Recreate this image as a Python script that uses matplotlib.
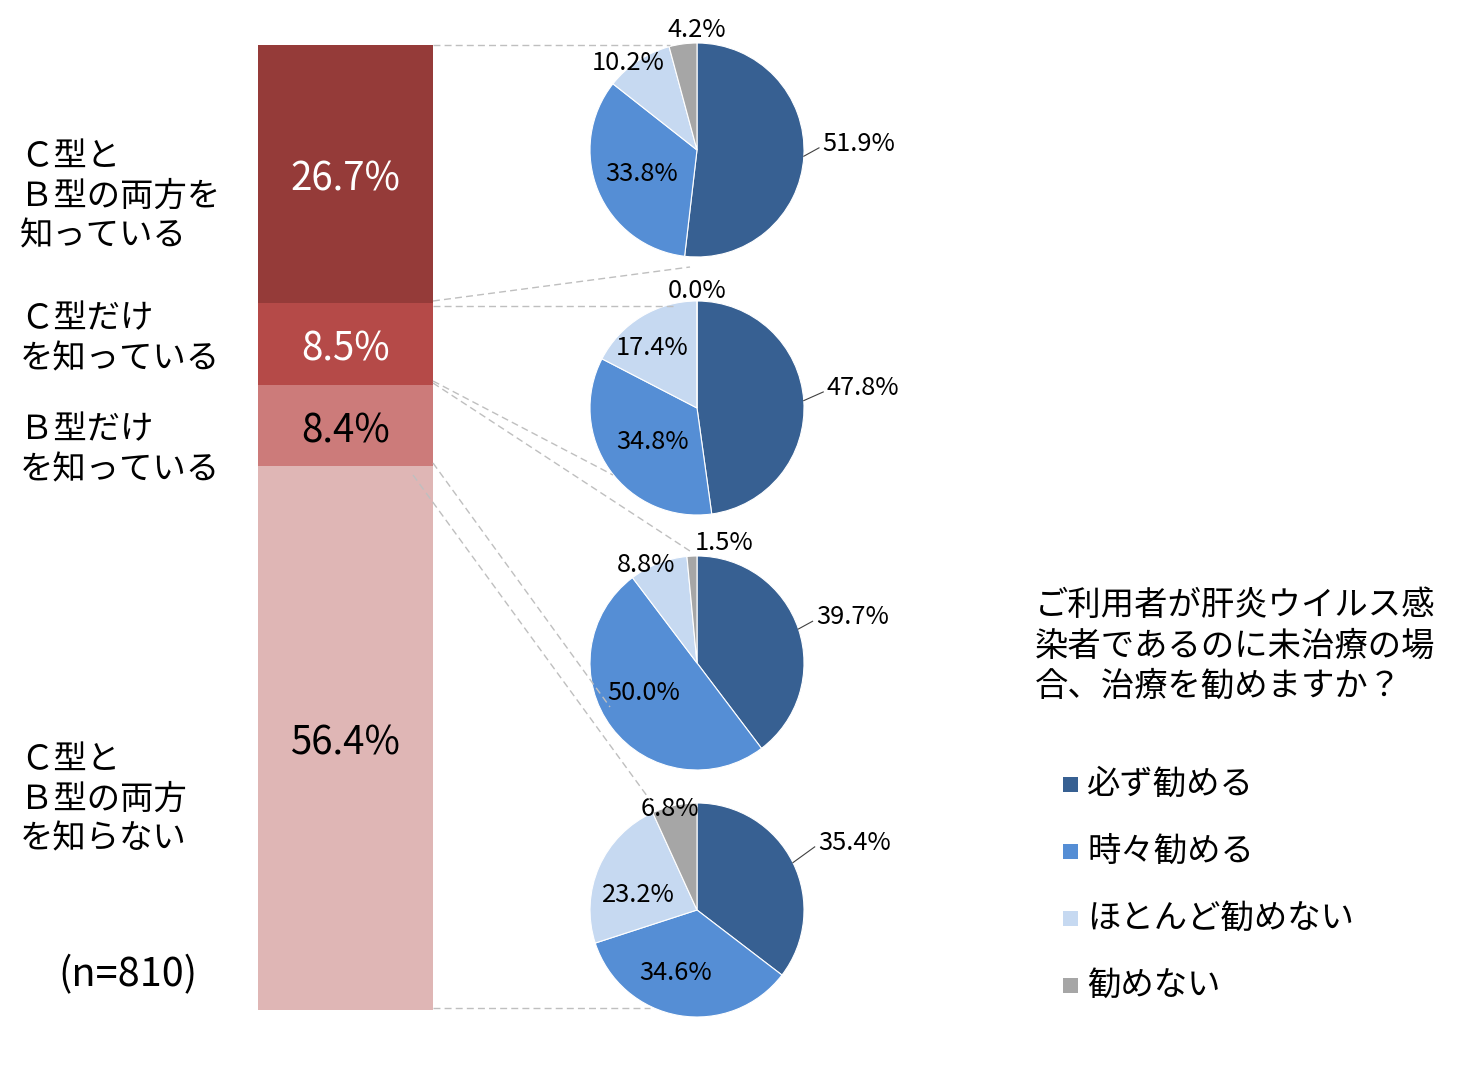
import matplotlib
matplotlib.use("Agg")
import matplotlib.pyplot as plt
from matplotlib.patches import Rectangle
import numpy as np

plt.rcParams['font.family'] = ['Noto Sans CJK JP', 'DejaVu Sans']

# ---------------- data ----------------
groups = ["Ｃ型と\nＢ型の両方を\n知っている",
          "Ｃ型だけ\nを知っている",
          "Ｂ型だけ\nを知っている",
          "Ｃ型と\nＢ型の両方\nを知らない"]
group_share = [26.7, 8.5, 8.4, 56.4]
answers = ["必ず勧める", "時々勧める", "ほとんど勧めない", "勧めない"]
pie_both = [51.9, 33.8, 10.2, 4.2]
pie_c_only = [47.8, 34.8, 17.4, 0.0]
pie_b_only = [39.7, 50.0, 8.8, 1.5]
pie_neither = [35.4, 34.6, 23.2, 6.8]
legend_title = "ご利用者が肝炎ウイルス感\n染者であるのに未治療の場\n合、治療を勧めますか？"
sample_note = "(n=810)"

# ---------------- style / layout ----------------
W, H = 1468, 1082
bar_colors = ["#953B39", "#B54A48", "#CC7B7A", "#DFB6B5"]
bar_text_colors = ["white", "white", "black", "black"]
pie_colors = ["#376092", "#558ED5", "#C6D9F1", "#A6A6A6"]
pie_centers = [(697, 150), (697, 408), (697, 663), (697, 910)]
R = 107
# label anchor offsets in units of pie radius (x right, y up)
label_offsets = [
    [(1.17, 0.06), (-0.52, -0.22), (-0.645, 0.81), (0.0, 1.12)],
    [(1.21, 0.19), (-0.42, -0.32), (-0.42, 0.56), (0.0, 1.09)],
    [(1.11, 0.43), (-0.50, -0.28), (-0.48, 0.92), (0.25, 1.12)],
    [(1.13, 0.63), (-0.20, -0.59), (-0.55, 0.14), (-0.25, 0.94)],
]
group_label_y = [196, 339, 450, 799]
connectors = [((433, 45), (670, 45)), ((433, 301), (690, 267)),
              ((433, 306), (673, 306)), ((433, 381), (613, 475)),
              ((433, 383), (693, 553)), ((433, 463), (610, 707)),
              ((413, 475), (650, 800)), ((433, 1008), (650, 1008))]
CJK_SIZE = 24
PIE_LABEL_SIZE = 18.3

fig = plt.figure(figsize=(W / 100, H / 100), dpi=100)
fig.patch.set_facecolor("white")

# ---------------- stacked bar ----------------
axb = fig.add_axes([258 / W, (H - 1010) / H, 175 / W, 965 / H])
bottoms = np.concatenate([[0], np.cumsum(group_share)[:-1]])
axb.bar([0] * len(group_share), group_share, bottom=bottoms, width=1.0,
        color=bar_colors, linewidth=0)
for b, h, tc in zip(bottoms, group_share, bar_text_colors):
    axb.annotate(f"{h:.1f}%", (0, b + h / 2), xytext=(0, -6),
                 textcoords="offset pixels", ha="center", va="center",
                 fontsize=27.7, color=tc)
axb.set_xlim(-0.5, 0.5)
axb.set_ylim(100, 0)
axb.axis("off")

# ---------------- pies ----------------
L = 150
for (cx, cy), vals, offs in zip(pie_centers,
                                [pie_both, pie_c_only, pie_b_only, pie_neither],
                                label_offsets):
    axp = fig.add_axes([(cx - L) / W, (H - cy - L) / H, 2 * L / W, 2 * L / H])
    axp.pie(vals, colors=pie_colors, startangle=90, counterclock=False,
            radius=1.0, wedgeprops=dict(edgecolor="white", linewidth=0.8))
    lim = L / R
    axp.set_xlim(-lim, lim)
    axp.set_ylim(-lim, lim)
    axp.set_aspect("equal")
    axp.axis("off")
    total = sum(vals)
    for i, (v, (dx, dy)) in enumerate(zip(vals, offs)):
        txt = f"{v:.1f}%"
        if i == 0:
            th = np.deg2rad(90 - v / total * 180)
            ex, ey = np.cos(th), np.sin(th)
            axp.plot([ex, dx - 0.03], [ey, dy - 0.04], color="#404040", lw=0.8)
            axp.text(dx, dy, txt, ha="left", va="center", fontsize=PIE_LABEL_SIZE)
        else:
            axp.text(dx, dy, txt, ha="center", va="center", fontsize=PIE_LABEL_SIZE)

# ---------------- overlay: connectors, labels, legend ----------------
ov = fig.add_axes([0, 0, 1, 1], zorder=10)
ov.set_xlim(0, W)
ov.set_ylim(H, 0)
ov.patch.set_alpha(0)
ov.axis("off")
for (x0, y0), (x1, y1) in connectors:
    ov.plot([x0, x1], [y0, y1], color="#BFBFBF", lw=1.0, ls=(0, (5, 3)))

for lab, y in zip(groups, group_label_y):
    ov.text(20, y, lab, ha="left", va="center", fontsize=CJK_SIZE,
            linespacing=1.19, color="black")
ov.text(128, 975, sample_note, ha="center", va="center", fontsize=28.5)

ov.text(1035, 646, legend_title, ha="left", va="center", fontsize=CJK_SIZE,
        linespacing=1.19)
for i, (ans, col) in enumerate(zip(answers, pie_colors)):
    y = 784 + i * 67
    ov.add_patch(Rectangle((1063, y - 7.5), 15, 15, facecolor=col,
                           edgecolor="none"))
    ov.text(1087, y, ans, ha="left", va="center", fontsize=CJK_SIZE)

fig.savefig("out.png", dpi=100, facecolor="white")
